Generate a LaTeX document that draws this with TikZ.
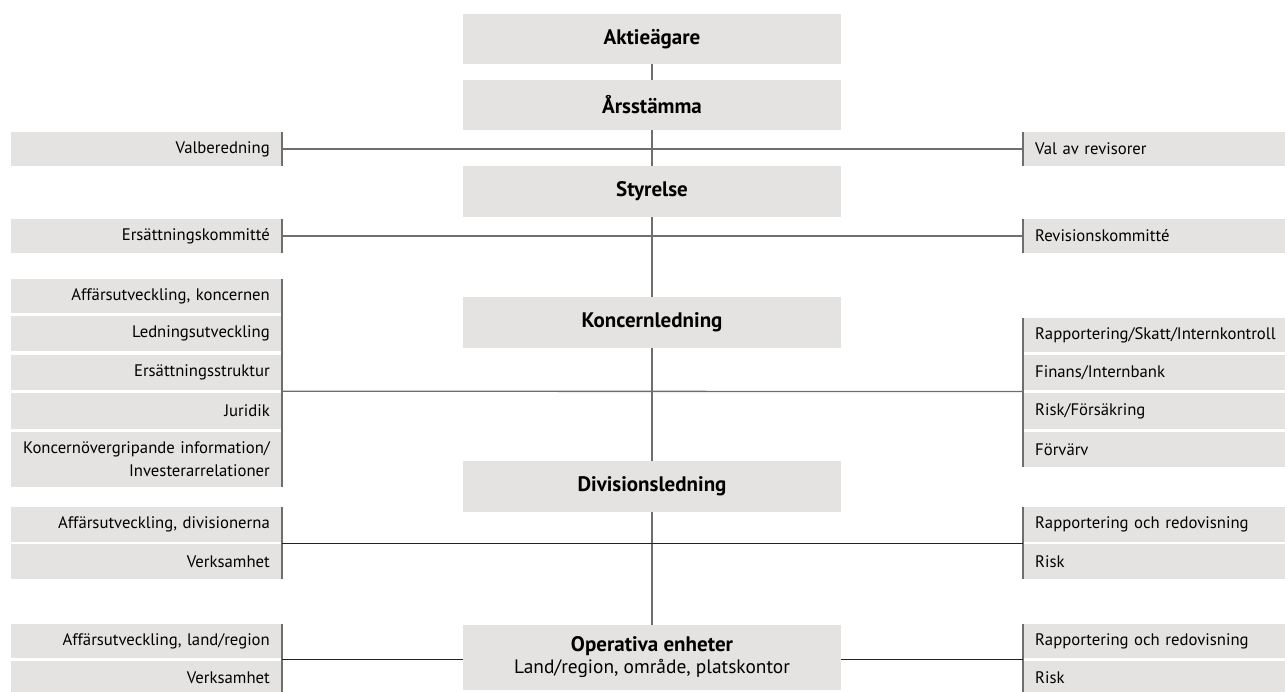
\documentclass[tikz,border=0pt]{standalone}
\usepackage{fontspec}
\setmainfont{PT Sans}
\usetikzlibrary{calc}
\definecolor{boxfill}{HTML}{E4E3E1}
\definecolor{linegray}{HTML}{6E6E6E}
\definecolor{linedark}{HTML}{222222}
\tikzset{
  mainbox/.style={fill=boxfill, inner sep=0pt, minimum width=378pt, align=center, font=\fontsize{21}{22}\selectfont\bfseries},
  leftbox/.style={fill=boxfill, inner sep=0pt, minimum width=271pt, text width=247pt, align=right, anchor=east, font=\fontsize{16.7}{23}\selectfont},
  rightbox/.style={fill=boxfill, inner sep=0pt, minimum width=262pt, text width=238pt, align=left, anchor=west, font=\fontsize{16.7}{23}\selectfont},
  spine/.style={draw=linegray, line width=1.4pt},
  bar/.style={draw=linegray, line width=1.4pt},
  linkup/.style={draw=linegray, line width=1.3pt},
  linklow/.style={draw=linedark, line width=1pt},
}
\begin{document}
\begin{tikzpicture}[x=1pt,y=-1pt]
\useasboundingbox (0,0) rectangle (1285,691);
% central boxes
\node[mainbox, minimum height=50pt] (akt) at (652,39) {Aktieägare};
\node[mainbox, minimum height=50pt] (ars) at (652,105) {Årsstämma};
\node[mainbox, minimum height=51pt] (sty) at (652,191.5) {Styrelse};
\node[mainbox, minimum height=51pt] (kon) at (652,322.5) {Koncernledning};
\node[mainbox, minimum height=51pt] (div) at (652,486.5) {Divisionsledning};
\node[mainbox, minimum height=65pt] (ope) at (652,657.5) {Operativa enheter\\{\mdseries\fontsize{19.4}{22}\selectfont Land/region, område, platskontor}};
% left boxes
\node[leftbox, minimum height=34pt] (valb) at (282,149) {Valberedning};
\node[leftbox, minimum height=34pt] (ersk) at (282,236) {Ersättningskommitté};
\node[leftbox, minimum height=34pt] (a1) at (282,296) {Affärsutveckling, koncernen};
\node[leftbox, minimum height=35pt] (a2) at (282,333.5) {Ledningsutveckling};
\node[leftbox, minimum height=35pt] (a3) at (282,372) {Ersättningsstruktur};
\node[leftbox, minimum height=36pt] (a4) at (282,411) {Juridik};
\node[leftbox, minimum height=55pt] (a5) at (282,459.5) {Koncernövergripande information/\\Investerarrelationer};
\node[leftbox, minimum height=35pt] (d1) at (282,524.5) {Affärsutveckling, divisionerna};
\node[leftbox, minimum height=35pt] (d2) at (282,561.5) {Verksamhet};
\node[leftbox, minimum height=34pt] (o1) at (282,641) {Affärsutveckling, land/region};
\node[leftbox, minimum height=35pt] (o2) at (282,678) {Verksamhet};
% right boxes
\node[rightbox, minimum height=34pt] (valr) at (1023,149) {Val av revisorer};
\node[rightbox, minimum height=34pt] (revk) at (1023,236) {Revisionskommitté};
\node[rightbox, minimum height=34pt] (r1) at (1023,335) {Rapportering/Skatt/Internkontroll};
\node[rightbox, minimum height=35pt] (r2) at (1023,372.5) {Finans/Internbank};
\node[rightbox, minimum height=36pt] (r3) at (1023,411) {Risk/Försäkring};
\node[rightbox, minimum height=35pt] (r4) at (1023,449.5) {Förvärv};
\node[rightbox, minimum height=35pt] (e1) at (1023,524.5) {Rapportering och redovisning};
\node[rightbox, minimum height=35pt] (e2) at (1023,561.5) {Risk};
\node[rightbox, minimum height=34pt] (p1) at (1023,641) {Rapportering och redovisning};
\node[rightbox, minimum height=35pt] (p2) at (1023,678) {Risk};
% junction coordinates
\coordinate (kL) at ($(a3.south east)!0.5!(a4.north east)$);
\coordinate (kR) at ($(r2.south west)!0.5!(r3.north west)$);
\coordinate (dL) at ($(d1.south east)!0.5!(d2.north east)$);
\coordinate (dR) at ($(e1.south west)!0.5!(e2.north west)$);
\coordinate (oL) at ($(o1.south east)!0.5!(o2.north east)$);
\coordinate (oR) at ($(p1.south west)!0.5!(p2.north west)$);
% spine
\draw[spine] (akt.south) -- (ars.north);
\draw[spine] (ars.south) -- (sty.north);
\draw[spine] (sty.south) -- (kon.north);
\draw[spine] (kon.south) -- (div.north);
\draw[spine] (div.south) -- (ope.north);
% bars
\draw[bar] (valb.north east) -- (valb.south east);
\draw[bar] (ersk.north east) -- (ersk.south east);
\draw[bar] (a1.north east) -- (a5.south east);
\draw[bar] (d1.north east) -- (d2.south east);
\draw[bar] (o1.north east) -- (o2.south east);
\draw[bar] (valr.north west) -- (valr.south west);
\draw[bar] (revk.north west) -- (revk.south west);
\draw[bar] (r1.north west) -- (r4.south west);
\draw[bar] (e1.north west) -- (e2.south west);
\draw[bar] (p1.north west) -- (p2.south west);
% horizontal links
\draw[linkup] (valb.east) -- (valr.west);
\draw[linkup] (ersk.east) -- (revk.west);
\draw[linkup] (kL) -- (kR);
\draw[linklow] (dL) -- (dR);
\draw[linklow] (oL) -- (oL -| ope.west);
\draw[linklow] (oR -| ope.east) -- (oR);
\end{tikzpicture}
\end{document}
